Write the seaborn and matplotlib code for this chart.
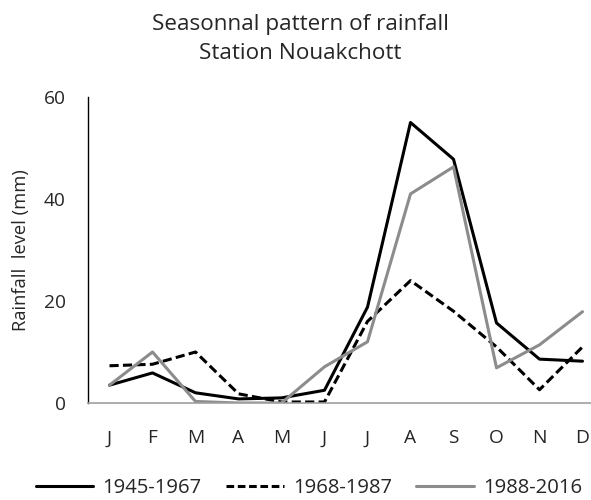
import pandas as pd
import numpy as np
import matplotlib
matplotlib.use("Agg")
import matplotlib.pyplot as plt
import seaborn as sns

## data
months = ["J", "F", "M", "A", "M", "J", "J", "A", "S", "O", "N", "D"]
periods = ["1945-1967", "1968-1987", "1988-2016"]
rain_1945_1967 = [3.5, 5.9, 2.0, 0.8, 1.0, 2.5, 18.8, 55.0, 47.8, 15.7, 8.6, 8.2]
rain_1968_1987 = [7.3, 7.6, 10.0, 1.8, 0.2, 0.2, 16.0, 24.0, 18.0, 11.0, 2.6, 11.0]
rain_1988_2016 = [3.5, 10.0, 0.3, 0.0, 0.0, 7.1, 12.0, 41.0, 46.3, 6.9, 11.4, 17.9]

sns.set_theme(style="white")
plt.rcParams['font.family'] = ['Open Sans', 'DejaVu Sans']

df = pd.DataFrame({
    "month": list(range(12)) * 3,
    "rain": rain_1945_1967 + rain_1968_1987 + rain_1988_2016,
    "period": [periods[0]] * 12 + [periods[1]] * 12 + [periods[2]] * 12,
})

fig = plt.figure(figsize=(5.91, 5.0), dpi=100)
ax = fig.add_axes([88 / 591, 97 / 500, 516 / 591, 306 / 500])

palette = {periods[0]: "black", periods[1]: "black", periods[2]: "#8c8c8c"}
dashes = {periods[0]: "", periods[1]: (3, 1.4), periods[2]: ""}
sns.lineplot(data=df, x="month", y="rain", hue="period", style="period",
             palette=palette, dashes=dashes, linewidth=2.2, ax=ax, legend=False)

ax.set_xlim(-0.5, 11.5)
ax.set_ylim(0, 60)
ax.set_yticks([0, 20, 40, 60])
ax.set_xticks(range(12))
ax.set_xticklabels(months)
ax.tick_params(axis="y", length=0, pad=16, labelsize=13.8)
ax.tick_params(axis="x", length=0, pad=19, labelsize=13.8)
ax.set_xlabel("")
ax.set_ylabel("Rainfall  level (mm)", fontsize=13.2, labelpad=10)

for s in ["top", "right"]:
    ax.spines[s].set_visible(False)
ax.spines["left"].set_color("black")
ax.spines["left"].set_linewidth(1.0)
ax.spines["bottom"].set_color("#a0a0a0")
ax.spines["bottom"].set_linewidth(1.2)

fig.text(300 / 591, 1 - 39 / 500, "Seasonnal pattern of rainfall\nStation Nouakchott",
         ha="center", va="center", fontsize=16.2, linespacing=1.55)

handles = [
    plt.Line2D([], [], color="black", lw=2.2),
    plt.Line2D([], [], color="black", lw=2.2, dashes=(2.5, 1.2)),
    plt.Line2D([], [], color="#8c8c8c", lw=2.2),
]
fig.legend(handles, periods, loc="center", bbox_to_anchor=(309 / 591, 1 - 488 / 500),
           ncol=3, frameon=False, fontsize=14.6, handlelength=2.85,
           handletextpad=0.45, columnspacing=1.2, borderpad=0)

plt.savefig("out.png", dpi=100)
